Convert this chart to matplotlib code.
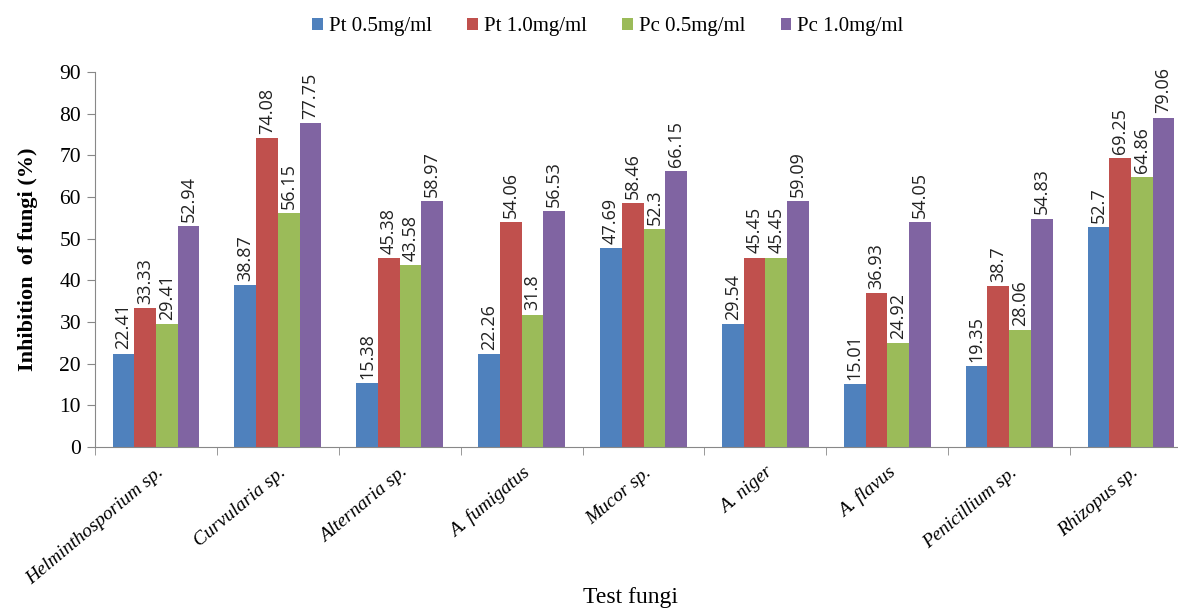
import matplotlib
matplotlib.use("Agg")
import matplotlib.pyplot as plt
import numpy as np

categories = ["Helminthosporium sp.", "Curvularia sp.", "Alternaria sp.", "A. fumigatus",
              "Mucor sp.", "A. niger", "A. flavus", "Penicillium sp.", "Rhizopus sp."]
series_names = ["Pt 0.5mg/ml", "Pt 1.0mg/ml", "Pc 0.5mg/ml", "Pc 1.0mg/ml"]
pt_05 = [22.41, 38.87, 15.38, 22.26, 47.69, 29.54, 15.01, 19.35, 52.7]
pt_10 = [33.33, 74.08, 45.38, 54.06, 58.46, 45.45, 36.93, 38.7, 69.25]
pc_05 = [29.41, 56.15, 43.58, 31.8, 52.3, 45.45, 24.92, 28.06, 64.86]
pc_10 = [52.94, 77.75, 58.97, 56.53, 66.15, 59.09, 54.05, 54.83, 79.06]
colors = ["#4F81BD", "#C0504D", "#9BBB59", "#8064A2"]

W, H = 1178, 609
fig = plt.figure(figsize=(W / 100, H / 100), dpi=100)
ax = fig.add_axes([95 / W, 1 - 447 / H, (1192 - 95) / W, (447 - 72) / H])

x = np.arange(len(categories))
bw = 0.178
series = [pt_05, pt_10, pc_05, pc_10]
for k, (vals, c, name) in enumerate(zip(series, colors, series_names)):
    pos = x + (k - 1.5) * bw
    ax.bar(pos, vals, width=bw, color=c, label=name, zorder=2)
    for px, v in zip(pos, vals):
        ax.annotate(f"{v:g}", (px, v), xytext=(0, 3), textcoords="offset points",
                    rotation=90, ha="center", va="bottom", fontsize=13,
                    family="Open Sans", color="#222222")

ax.set_xlim(-0.5, len(categories) - 0.5)
ax.set_ylim(0, 90)
ax.set_yticks(np.arange(0, 91, 10))
ax.set_yticklabels([str(v) for v in range(0, 91, 10)], family="Liberation Serif", fontsize=15.5)
ax.set_xticks(x)
ax.set_xticklabels(categories, rotation=40, ha="right", rotation_mode="anchor",
                   family="Liberation Serif", style="italic", fontsize=14)
ax.set_xticks(np.arange(-0.5, len(categories) + 0.5, 1), minor=True)
ax.tick_params(axis="x", which="major", length=0, pad=12)
ax.tick_params(axis="x", which="minor", length=6, color="#888888")
ax.tick_params(axis="y", length=6, color="#888888", pad=4)

for s in ["top", "right"]:
    ax.spines[s].set_visible(False)
for s in ["left", "bottom"]:
    ax.spines[s].set_color("#888888")

ax.set_ylabel("Inhibition  of fungi (%)", family="Liberation Serif", fontweight="bold",
              fontsize=16, labelpad=10)
ax.yaxis.set_label_coords(-57 / (1192 - 95), 0.5)
fig.text(630 / W, 1 - 597 / H, "Test fungi", family="Liberation Serif", fontsize=17,
         ha="center", va="center")

handles, labels = ax.get_legend_handles_labels()
fig.legend(handles, labels, loc="center", bbox_to_anchor=(608 / W, 1 - 27 / H), ncol=4,
           frameon=False, prop={"family": "Liberation Serif", "size": 15},
           handlelength=0.5, handleheight=0.5, handletextpad=0.3, columnspacing=1.7)

fig.savefig("out.png", dpi=100)
